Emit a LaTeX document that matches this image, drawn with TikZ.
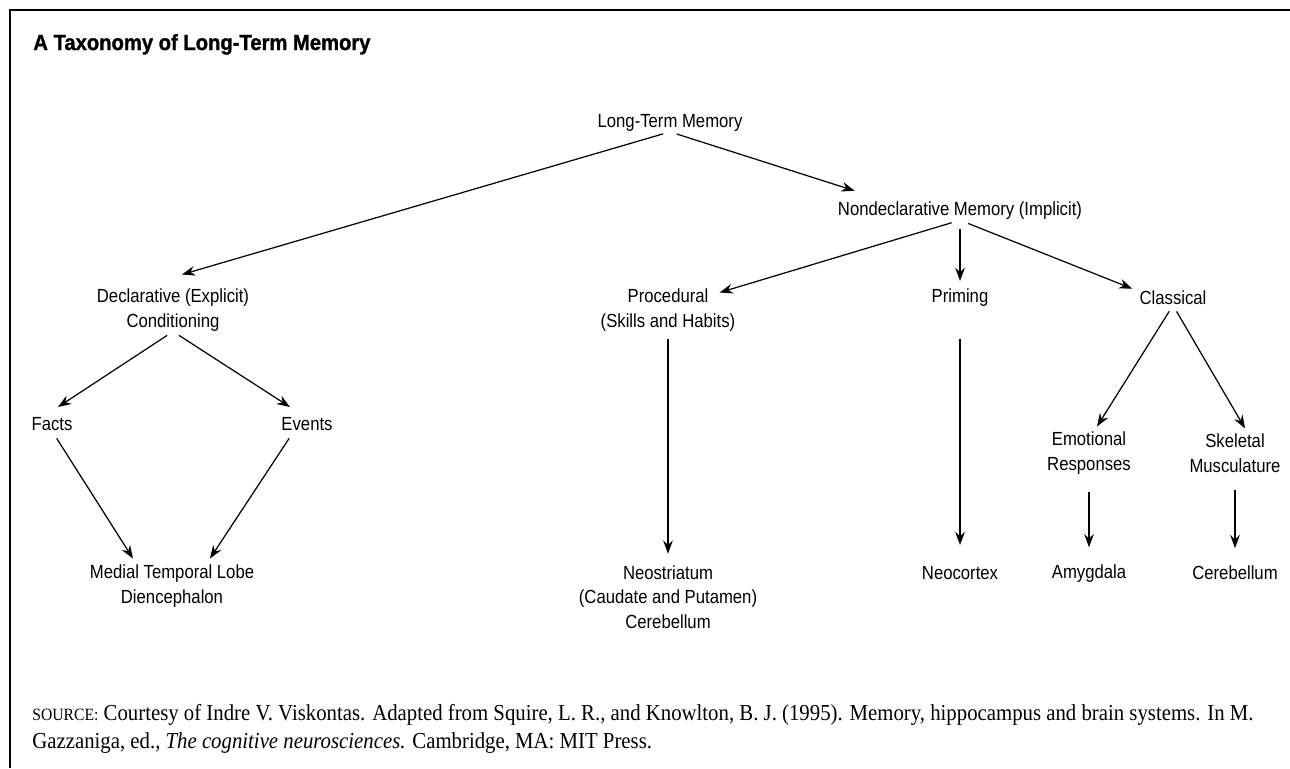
\documentclass[tikz,border=0pt]{standalone}
\usepackage{fontspec}
\usetikzlibrary{arrows.meta,calc}
\setmainfont{Liberation Sans}
\newfontfamily\lblfont{Liberation Sans}[FakeStretch=0.88]
\newfontfamily\titlefont{Liberation Sans Bold}[FakeBold=1.2,FakeStretch=0.92]
\newfontfamily\srcfont{Liberation Serif}[FakeStretch=0.91]

\tikzset{
  lbl/.style={inner sep=0pt, align=center, font=\lblfont\fontsize{10.8}{14}\selectfont},
  arr/.style={line width=0.7pt, -{Stealth[length=7.5pt,width=5.5pt,inset=2.5pt]}},
}

\begin{document}
\begin{tikzpicture}[x=0.02cm,y=-0.02cm]
\useasboundingbox (0,0) rectangle (1290,768);
\draw[line width=1.7pt] (10,768) -- (10,10) -- (1290,10);

\node[anchor=base west, inner sep=0pt, font=\titlefont\fontsize{12.5}{15}\selectfont] (title) at (33,50) {A Taxonomy of Long-Term Memory};

% top of the tree
\node[lbl] (ltm) at (670,123) {Long-Term Memory};
\node[lbl] (nondecl) at (960,211) {Nondeclarative Memory (Implicit)};

% second row
\node[lbl] (decl) at (173,310) {Declarative (Explicit)\\Conditioning};
\node[lbl] (proc) at (668,310) {Procedural\\(Skills and Habits)};
\node[lbl] (prim) at (960,298) {Priming};
\node[lbl] (class) at (1173,298) {Classical};

% third row
\node[lbl] (facts) at (52,424) {Facts};
\node[lbl] (events) at (307,424) {Events};
\node[lbl] (emot) at (1089,453) {Emotional\\Responses};
\node[lbl] (skel) at (1235,453) {Skeletal\\Musculature};

% brain areas
\node[lbl] (medial) at (172,586) {Medial Temporal Lobe\\Diencephalon};
\node[lbl] (neo) at (668,597) {Neostriatum\\(Caudate and Putamen)\\Cerebellum};
\node[lbl] (neocx) at (960,573) {Neocortex};
\node[lbl] (amyg) at (1089,574) {Amygdala};
\node[lbl] (cereb) at (1235,573) {Cerebellum};

\draw[arr, shorten <=4pt] (ltm.south) -- ($(decl.north)+(9,-14)$);
\draw[arr, shorten <=4pt] (ltm.south) -- ($(nondecl.north west)+(17,-11)$);

\draw[arr, shorten <=5pt] (nondecl.south) -- ($(proc.north east)+(-16,4)$);
\draw[arr, shorten <=5pt, shorten >=4.5pt] (nondecl.south) -- (prim.north);
\draw[arr, shorten <=5pt] (nondecl.south) -- ($(class.north west)+(-7,-2)$);

\draw[arr, shorten <=4pt] (decl.south) -- ($(facts.north)+(6,-10)$);
\draw[arr, shorten <=4pt] (decl.south) -- ($(events.north)+(-17,-10)$);
\draw[arr, shorten <=5pt] (facts.south) -- ($(medial.north)+(-39,-6)$);
\draw[arr, shorten <=5pt] ($(events.south)+(-13,0)$) -- ($(medial.north)+(38,-6)$);

\draw[arr, shorten <=4.5pt, shorten >=6.5pt] (proc.south) -- (neo.north);
\draw[arr, shorten <=18pt, shorten >=12pt] (prim.south) -- (neocx.north);

\draw[arr, shorten <=4pt] (class.south) -- ($(emot.north)+(8,-5)$);
\draw[arr, shorten <=4pt] (class.south) -- ($(skel.north)+(10,-5)$);
\draw[arr, shorten <=10pt, shorten >=10pt] (emot.south) -- (amyg.north);
\draw[arr, shorten <=10pt, shorten >=10pt] (skel.south) -- (cereb.north);

\node[anchor=base west, inner sep=0pt, align=left, font=\srcfont\fontsize{13}{15.4}\selectfont] (src) at (32,748)
  {{\fontsize{9.8}{11}\selectfont SOURCE:} Courtesy of Indre V. Viskontas. Adapted from Squire, L. R., and Knowlton, B. J. (1995). Memory, hippocampus and brain systems. In M.\\
   Gazzaniga, ed., \textit{The cognitive neurosciences.} Cambridge, MA: MIT Press.};
\end{tikzpicture}
\end{document}
